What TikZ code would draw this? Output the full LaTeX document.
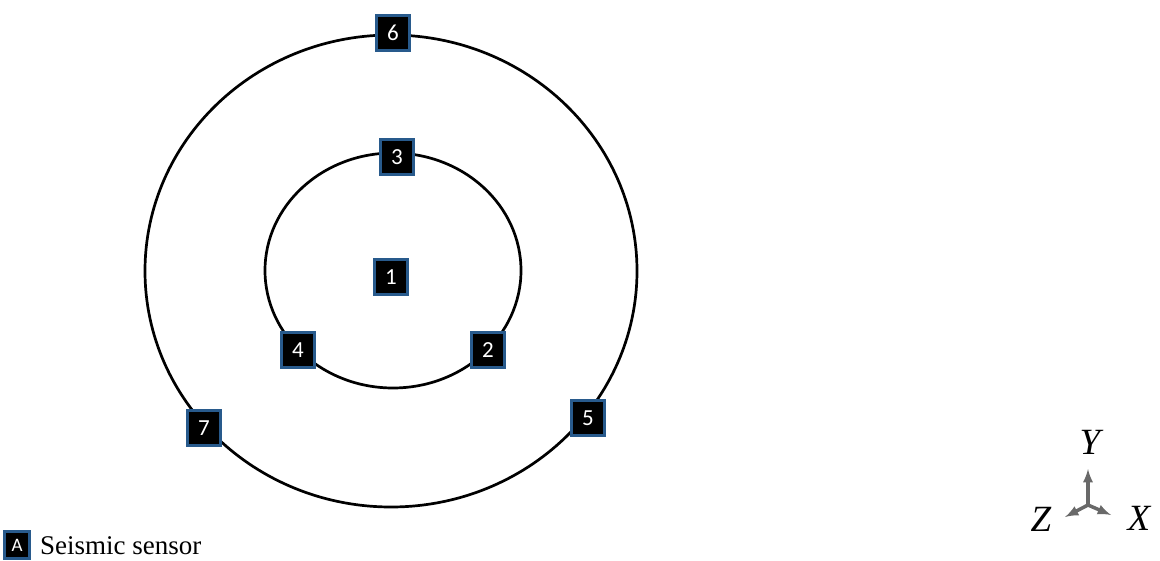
\documentclass[tikz,border=0pt]{standalone}
\usepackage{fontspec}
\setmainfont{Liberation Serif}
\newfontfamily\boxfont{Carlito}
\usepackage{xcolor}
\definecolor{sensorblue}{RGB}{40,90,140}
\definecolor{axisgray}{RGB}{105,105,105}

\begin{document}
\begin{tikzpicture}[x=1pt, y=-1pt,
    sensor/.style={draw=sensorblue, line width=2.6pt, fill=black, text=white,
        minimum width=33pt, minimum height=35pt, inner sep=0pt, font=\boxfont\fontsize{23}{23}\selectfont},
    axislbl/.style={font=\itshape\fontsize{37}{37}\selectfont, inner sep=0pt}]
    \useasboundingbox (0,0) rectangle (1160,561);

    % Draw the rings
    \draw[line width=2.7pt] (391,271) ellipse [x radius=246, y radius=236];
    \draw[line width=2.7pt] (393,270.5) ellipse [x radius=128, y radius=117.5];

    % Sensors
    \node[sensor] (s1) at (391,277) {1};
    \node[sensor] (s2) at (488,350) {2};
    \node[sensor] (s3) at (397,157) {3};
    \node[sensor] (s4) at (298,350) {4};
    \node[sensor] (s5) at (588,418) {5};
    \node[sensor] (s6) at (393,33) {6};
    \node[sensor] (s7) at (204,428) {7};

    % Legend
    \node[sensor, minimum width=25pt, minimum height=27pt, font=\boxfont\fontsize{19}{19}\selectfont] (key) at (17,545) {A};
    \node[anchor=west, font=\fontsize{27}{27}\selectfont, inner sep=0pt] (keytxt) at (40,546) {Seismic sensor};

    % Axes
    \coordinate (o) at (1088,505);
    \coordinate (ytip) at (1088,469);
    \coordinate (ztip) at (1065,517);
    \coordinate (xtip) at (1111,515);
    \draw[-latex, axisgray, line width=3.5pt] (o) -- (ytip);
    \draw[-latex, axisgray, line width=3.5pt] (o) -- (ztip);
    \draw[-latex, axisgray, line width=3.5pt] (o) -- (xtip);
    \node[axislbl] (ylbl) at (1090,442) {Y};
    \node[axislbl] (zlbl) at (1041,519) {Z};
    \node[axislbl] (xlbl) at (1139,518) {X};
\end{tikzpicture}
\end{document}
